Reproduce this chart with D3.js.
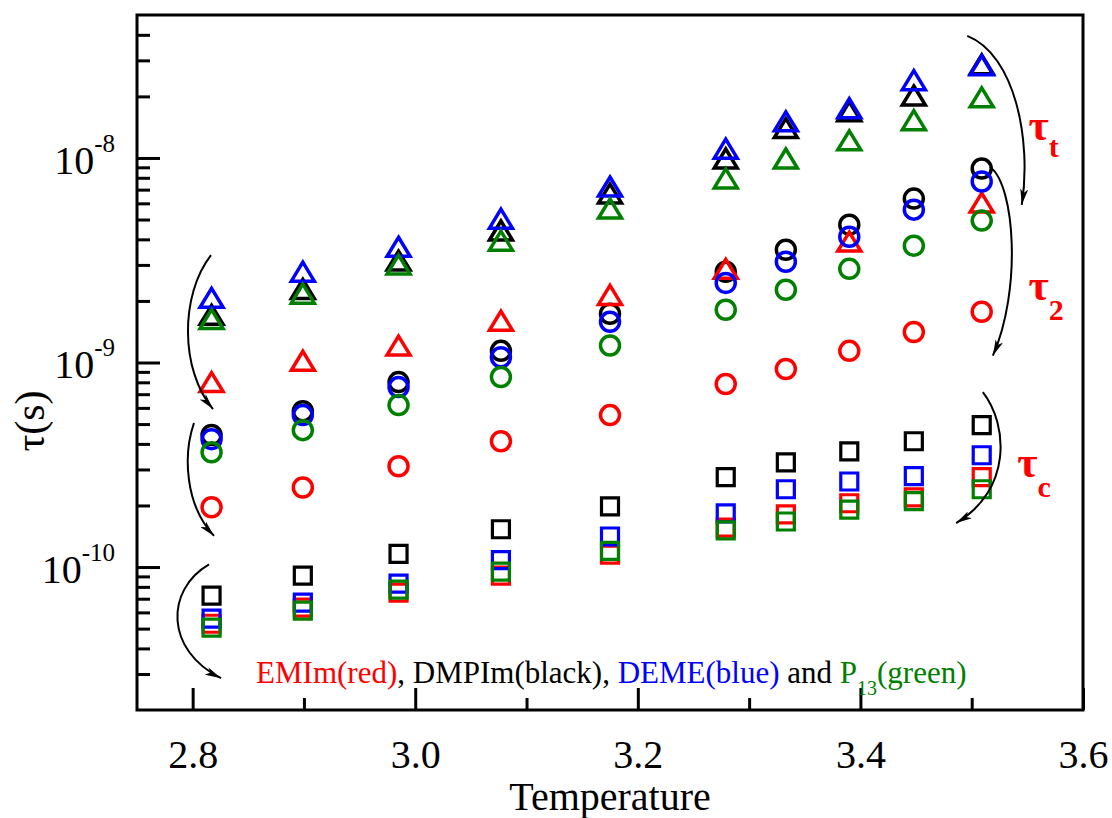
<!DOCTYPE html>
<html>
<head>
<meta charset="utf-8">
<script src="https://cdn.jsdelivr.net/npm/d3@7"></script>
<style>
  html, body { margin: 0; padding: 0; background: #fff; }
  svg { display: block; }
  svg text { font-family: "Liberation Serif", "Times New Roman", serif; }
</style>
</head>
<body>
<svg id="chart" width="1112" height="818"></svg>
<script>
// x values (1000/T) of the ten measurement columns
const invTemp = [2.817, 2.899, 2.985, 3.077, 3.175, 3.279, 3.333, 3.390, 3.448, 3.509];

// tau_t (triangles)
const tauT_DMPIm = [1.71e-9, 2.29e-9, 3.15e-9, 4.42e-9, 6.70e-9, 9.94e-9, 1.40e-8, 1.69e-8, 2.02e-8, 2.87e-8];
const tauT_EMIm = [8.02e-10, 1.02e-9, 1.21e-9, 1.60e-9, 2.14e-9, 2.87e-9, null, 3.90e-9, null, 6.05e-9];
const tauT_DEME = [2.07e-9, 2.78e-9, 3.68e-9, 5.05e-9, 7.25e-9, 1.11e-8, 1.51e-8, 1.75e-8, 2.40e-8, 2.84e-8];
const tauT_P13 = [1.63e-9, 2.17e-9, 3.01e-9, 3.94e-9, 5.66e-9, 7.94e-9, 9.94e-9, 1.22e-8, 1.53e-8, 1.98e-8];

// tau_2 (circles)
const tau2_DMPIm = [4.42e-10, 5.78e-10, 8.02e-10, 1.14e-9, 1.73e-9, 2.78e-9, 3.56e-9, 4.72e-9, 6.33e-9, 8.88e-9];
const tau2_EMIm = [1.96e-10, 2.45e-10, 3.11e-10, 4.12e-10, 5.53e-10, 7.85e-10, 9.29e-10, 1.14e-9, 1.41e-9, 1.77e-9];
const tau2_DEME = [4.22e-10, 5.53e-10, 7.58e-10, 1.06e-9, 1.58e-9, 2.45e-9, 3.11e-9, 4.12e-9, 5.59e-9, 7.67e-9];
const tau2_P13 = [3.64e-10, 4.67e-10, 6.19e-10, 8.49e-10, 1.21e-9, 1.81e-9, 2.27e-9, 2.87e-9, 3.72e-9, 4.94e-9];

// tau_c (squares)
const tauC_DMPIm = [7.25e-11, 9.08e-11, 1.16e-10, 1.53e-10, 1.98e-10, 2.75e-10, 3.25e-10, 3.68e-10, 4.12e-10, 4.94e-10];
const tauC_EMIm = [5.28e-11, 6.33e-11, 7.50e-11, 9.08e-11, 1.15e-10, 1.56e-10, 1.81e-10, 2.05e-10, 2.19e-10, 2.75e-10];
const tauC_DEME = [5.59e-11, 6.70e-11, 8.30e-11, 1.08e-10, 1.41e-10, 1.83e-10, 2.40e-10, 2.62e-10, 2.78e-10, 3.52e-10];
const tauC_P13 = [5.05e-11, 6.12e-11, 7.76e-11, 9.50e-11, 1.20e-10, 1.51e-10, 1.67e-10, 1.91e-10, 2.10e-10, 2.40e-10];

// axes
const xDomain = [2.75, 3.6];
const yDomain = [2e-11, 5e-8];
const xMajorTicks = [2.8, 3.0, 3.2, 3.4, 3.6];
const xMinorTicks = [2.9, 3.1, 3.3, 3.5];
const yMajorTicks = [1e-10, 1e-9, 1e-8];
const yMajorExp = ['-10', '-9', '-8'];
const yMinorTicks = [3e-11, 4e-11, 5e-11, 6e-11, 7e-11, 8e-11, 9e-11,
  2e-10, 3e-10, 4e-10, 5e-10, 6e-10, 7e-10, 8e-10, 9e-10,
  2e-9, 3e-9, 4e-9, 5e-9, 6e-9, 7e-9, 8e-9, 9e-9,
  2e-8, 3e-8, 4e-8];

// curved arrows, [x, y] in data units: start, control 1, control 2, end
const arrowTauT = [[3.496, 3.95e-8], [3.539, 3.19e-8], [3.554, 1.22e-8], [3.545, 5.9e-9]];
const arrowTau2 = [[3.5165, 9.03e-9], [3.539, 7.37e-9], [3.545, 2.26e-9], [3.519, 1.08e-9]];
const arrowTauC = [[3.510, 7.17e-10], [3.533, 4.94e-10], [3.536, 2.38e-10], [3.486, 1.64e-10]];
const arrowLeftT = [[2.8165, 3.35e-9], [2.7886, 2.14e-9], [2.7886, 9.18e-10], [2.8183, 5.92e-10]];
const arrowLeft2 = [[2.8012, 5.06e-10], [2.7913, 3.53e-10], [2.7931, 2.01e-10], [2.8192, 1.42e-10]];
const arrowLeftC = [[2.8147, 1.03e-10], [2.7752, 7.71e-11], [2.7752, 3.92e-11], [2.8255, 2.86e-11]];

const width = 1112;
const height = 818;
const margin = { top: 15, right: 29, bottom: 108, left: 137 };

const colors = { EMIm: '#ff0000', DMPIm: '#000000', DEME: '#0000ff', P13: '#008000' };

const series = [
  { shape: 'tri', name: 'DMPIm', values: tauT_DMPIm },
  { shape: 'circ', name: 'DMPIm', values: tau2_DMPIm },
  { shape: 'sq', name: 'DMPIm', values: tauC_DMPIm },
  { shape: 'tri', name: 'EMIm', values: tauT_EMIm },
  { shape: 'circ', name: 'EMIm', values: tau2_EMIm },
  { shape: 'sq', name: 'EMIm', values: tauC_EMIm },
  { shape: 'tri', name: 'DEME', values: tauT_DEME },
  { shape: 'circ', name: 'DEME', values: tau2_DEME },
  { shape: 'sq', name: 'DEME', values: tauC_DEME },
  { shape: 'tri', name: 'P13', values: tauT_P13 },
  { shape: 'circ', name: 'P13', values: tau2_P13 },
  { shape: 'sq', name: 'P13', values: tauC_P13 },
];

const shapePaths = {
  tri: 'M0,-9.5L11.5,9.5L-11.5,9.5Z',
  circ: 'M9.5,0A9.5,9.5 0 1,1 -9.5,0A9.5,9.5 0 1,1 9.5,0Z',
  sq: 'M-8.5,-8.5H8.5V8.5H-8.5Z',
};

const svg = d3.select('#chart');

const x = d3.scaleLinear().domain(xDomain).range([margin.left, width - margin.right]);
const y = d3.scaleLog().domain(yDomain).range([height - margin.bottom, margin.top]);

svg.append('defs')
  .append('marker')
  .attr('id', 'head')
  .attr('viewBox', '0 0 16 8')
  .attr('refX', 16)
  .attr('refY', 4)
  .attr('markerWidth', 16)
  .attr('markerHeight', 8)
  .attr('markerUnits', 'userSpaceOnUse')
  .attr('orient', 'auto')
  .append('path')
  .attr('d', 'M0,0L16,4L0,8L4,4Z')
  .attr('fill', '#000');

// d3 axes put their own font on the group; drop it so the serif face applies
function plainAxis(g) {
  g.attr('font-family', null).attr('font-size', null);
  g.select('.domain').remove();
  g.selectAll('line').attr('stroke-width', 3);
}

// ticks (inward)
const xBase = height - margin.bottom;
svg.append('g')
  .attr('transform', `translate(0,${xBase})`)
  .call(d3.axisBottom(x).tickValues(xMinorTicks).tickSizeInner(-12).tickSizeOuter(0).tickFormat(''))
  .call(plainAxis);

svg.append('g')
  .attr('transform', `translate(0,${xBase})`)
  .call(d3.axisBottom(x).tickValues(xMajorTicks).tickSizeInner(-22).tickSizeOuter(0).tickPadding(30).tickFormat(d3.format('.1f')))
  .call(plainAxis)
  .selectAll('text')
  .attr('fill', '#000')
  .style('font-size', '40px');

svg.append('g')
  .attr('transform', `translate(${margin.left},0)`)
  .call(d3.axisLeft(y).tickValues(yMinorTicks).tickSizeInner(-13).tickSizeOuter(0).tickFormat(''))
  .call(plainAxis);

svg.append('g')
  .attr('transform', `translate(${margin.left},0)`)
  .call(d3.axisLeft(y).tickValues(yMajorTicks).tickSizeInner(-23).tickSizeOuter(0).tickPadding(22).tickFormat(() => '10'))
  .call(plainAxis)
  .selectAll('text')
  .attr('fill', '#000')
  .attr('dy', '0.38em')
  .style('font-size', '40px')
  .each(function (d, i) {
    d3.select(this).append('tspan')
      .attr('dy', -22)
      .style('font-size', '25px')
      .text(yMajorExp[i]);
  });

// frame
svg.append('rect')
  .attr('x', margin.left)
  .attr('y', margin.top)
  .attr('width', width - margin.left - margin.right)
  .attr('height', height - margin.top - margin.bottom)
  .attr('fill', 'none')
  .attr('stroke', '#000')
  .attr('stroke-width', 3);

// markers
for (const s of series) {
  const pts = invTemp.map((t, i) => ({ t: t, v: s.values[i] })).filter((d) => d.v != null);
  svg.append('g')
    .selectAll('path')
    .data(pts)
    .enter()
    .append('path')
    .attr('d', shapePaths[s.shape])
    .attr('transform', (d) => `translate(${x(d.t)},${y(d.v)})`)
    .attr('fill', 'none')
    .attr('stroke', colors[s.name])
    .attr('stroke-width', s.shape == 'sq' ? 3.2 : 3.5);
}

// arrows
const arrows = [arrowTauT, arrowTau2, arrowTauC, arrowLeftT, arrowLeft2, arrowLeftC];
for (const a of arrows) {
  const p = d3.path();
  const q = a.map((d) => [x(d[0]), y(d[1])]);
  p.moveTo(q[0][0], q[0][1]);
  p.bezierCurveTo(q[1][0], q[1][1], q[2][0], q[2][1], q[3][0], q[3][1]);
  svg.append('path')
    .attr('d', p.toString())
    .attr('fill', 'none')
    .attr('stroke', '#000')
    .attr('stroke-width', 2)
    .attr('marker-end', 'url(#head)');
}

// tau labels
const tauLabels = [
  { sub: 't', at: [3.551, 1.22e-8], dy: 17 },
  { sub: '2', at: [3.551, 2.02e-9], dy: 20 },
  { sub: 'c', at: [3.541, 2.75e-10], dy: 20 },
];
for (const l of tauLabels) {
  const t = svg.append('text')
    .attr('x', x(l.at[0]))
    .attr('y', y(l.at[1]))
    .attr('fill', '#ff0000')
    .attr('font-weight', 'bold')
    .style('font-size', '44px')
    .text('τ');
  t.append('tspan')
    .attr('dy', l.dy)
    .style('font-size', '30px')
    .text(l.sub);
}

// legend line
const legend = svg.append('text')
  .attr('x', x(2.857))
  .attr('y', height - margin.bottom - 27)
  .style('font-size', '31px')
  .attr('fill', '#000');
legend.append('tspan').attr('fill', colors.EMIm).text('EMIm(red)');
legend.append('tspan').text(', DMPIm(black), ');
legend.append('tspan').attr('fill', colors.DEME).text('DEME(blue)');
legend.append('tspan').text(' and ');
legend.append('tspan').attr('fill', colors.P13).text('P');
legend.append('tspan').attr('fill', colors.P13).attr('dy', 12).style('font-size', '20px').text('13');
legend.append('tspan').attr('fill', colors.P13).attr('dy', -12).text('(green)');

// axis titles
svg.append('text')
  .attr('text-anchor', 'middle')
  .attr('x', (margin.left + width - margin.right) / 2)
  .attr('y', 810)
  .style('font-size', '40px')
  .text('Temperature');

svg.append('text')
  .attr('text-anchor', 'middle')
  .attr('transform', 'translate(44,421)rotate(-90)')
  .style('font-size', '42px')
  .text('τ(s)');
</script>
</body>
</html>
